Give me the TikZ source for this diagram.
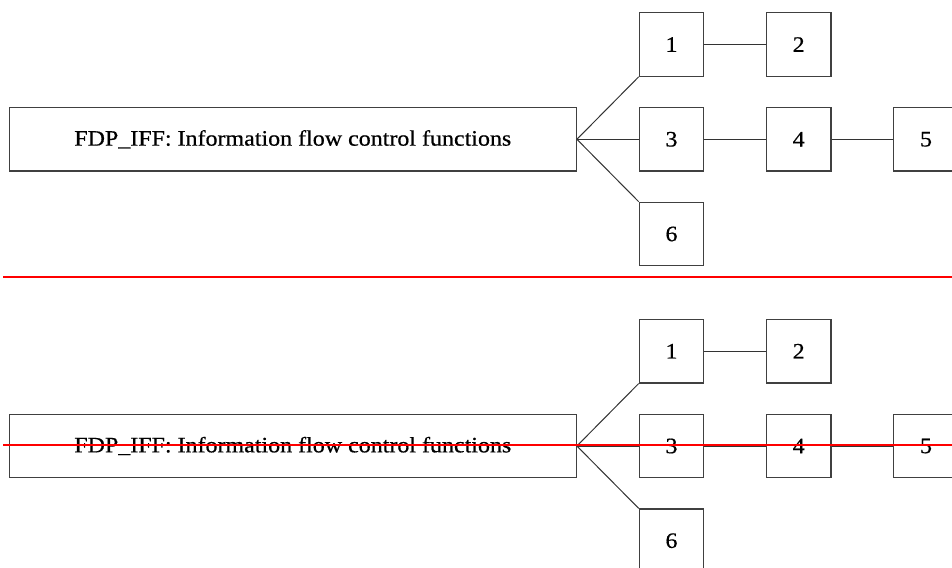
\documentclass[tikz,border=0pt]{standalone}
\usepackage{fontspec}
\setmainfont{Liberation Serif}[FakeStretch=1.09,FakeBold=0.6]
\begin{document}
\begin{tikzpicture}[x=1pt,y=-1pt,
  box/.style={draw=black!75,line width=1.2pt,minimum width=64.4pt,minimum height=63.4pt,inner sep=0pt,font=\fontsize{22}{26}\selectfont,text=black},
  bigbox/.style={box,minimum width=567pt},
  link/.style={draw=black!80,line width=1pt},
  redline/.style={draw=red,line width=2.3pt}]
\useasboundingbox (0,0) rectangle (952,567);
\clip (0,0) rectangle (952,567);
% top copy
\node[bigbox] (aF) at (292.8,139.3) {FDP\_IFF: Information flow control functions};
\node[box] (a1) at (671.5,44.5) {1};
\node[box] (a2) at (798.7,44.5) {2};
\node[box] (a3) at (671.5,139.3) {3};
\node[box] (a4) at (798.7,139.3) {4};
\node[box] (a5) at (926,139.3) {5};
\node[box] (a6) at (671.5,234) {6};
\draw[link] (aF.east) -- (a1.south west);
\draw[link] (aF.east) -- (a3.west);
\draw[link] (aF.east) -- (a6.north west);
\draw[link] (a1) -- (a2);
\draw[link] (a3) -- (a4);
\draw[link] (a4) -- (a5);
% separator
\coordinate (s1) at (3,276.7);
\coordinate (s2) at (952,276.7);
\draw[redline] (s1) -- (s2);
% bottom copy
\node[bigbox] (bF) at (292.8,446) {FDP\_IFF: Information flow control functions};
\node[box] (b1) at (671.5,351.2) {1};
\node[box] (b2) at (798.7,351.2) {2};
\node[box] (b3) at (671.5,446) {3};
\node[box] (b4) at (798.7,446) {4};
\node[box] (b5) at (926,446) {5};
\node[box] (b6) at (671.5,540.7) {6};
\draw[link] (bF.east) -- (b1.south west);
\draw[link] (bF.east) -- (b3.west);
\draw[link] (bF.east) -- (b6.north west);
\draw[link] (b1) -- (b2);
\draw[link] (b3) -- (b4);
\draw[link] (b4) -- (b5);
\coordinate (r1) at (3,444.7);
\coordinate (r2) at (952,444.7);
\draw[redline] (r1) -- (r2);
\end{tikzpicture}
\end{document}
